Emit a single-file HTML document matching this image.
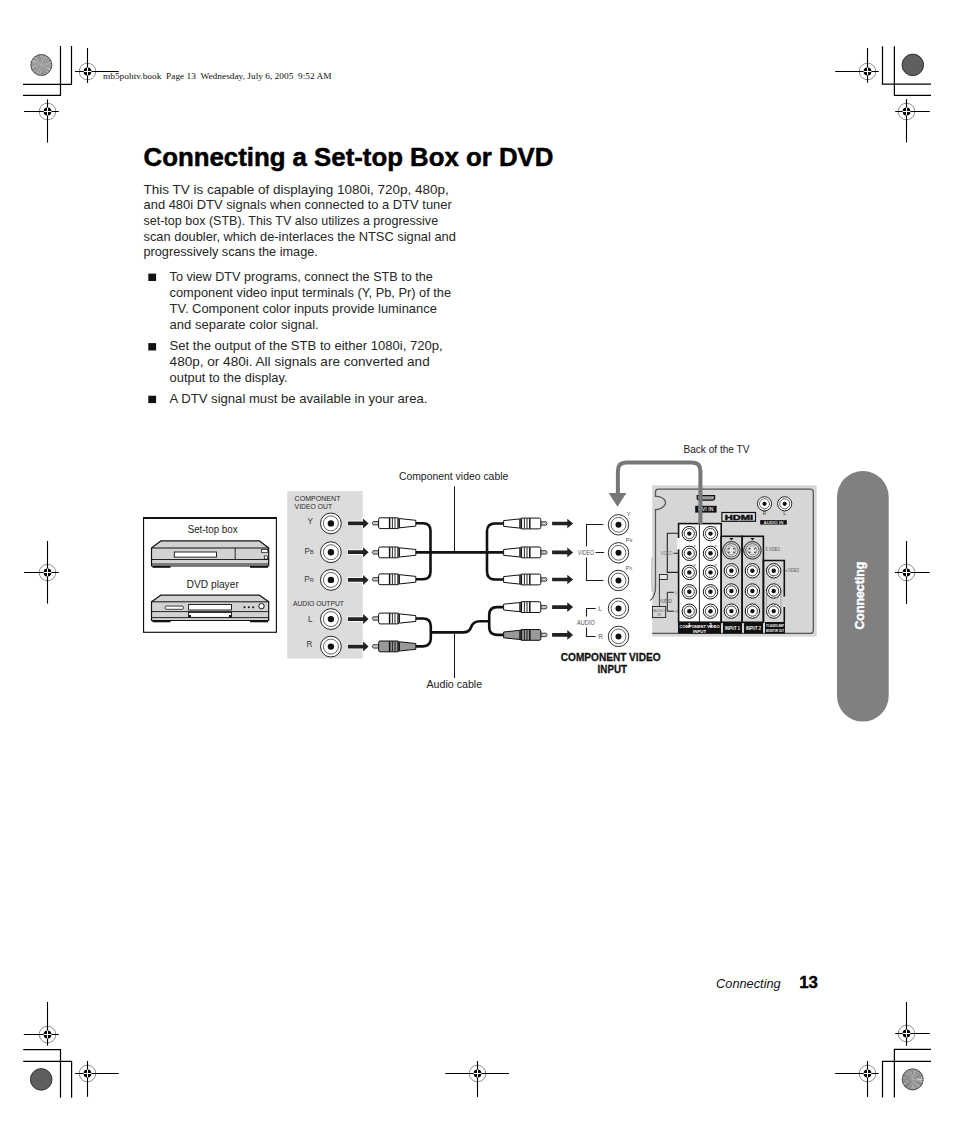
<!DOCTYPE html><html><head><meta charset="utf-8"><title>Connecting a Set-top Box or DVD</title>
<style>html,body{margin:0;padding:0;background:#fff;}body{width:954px;height:1145px;overflow:hidden;position:relative;font-family:"Liberation Sans",sans-serif;}svg{position:absolute;left:0;top:0;}</style></head><body>
<svg width="954" height="1145" viewBox="0 0 954 1145">
<polyline points="23,84.4 71.5,84.4 71.5,46" fill="none" stroke="#000" stroke-width="1.2"/>
<polyline points="23,95.3 60.5,95.3 60.5,46" fill="none" stroke="#000" stroke-width="1.2"/>
<polyline points="931,84.1 882.5,84.1 882.5,46.2" fill="none" stroke="#000" stroke-width="1.2"/>
<polyline points="931,95.3 894.4,95.3 894.4,46.2" fill="none" stroke="#000" stroke-width="1.2"/>
<polyline points="23.2,1049.6 60.5,1049.6 60.5,1097.8" fill="none" stroke="#000" stroke-width="1.2"/>
<polyline points="23.2,1061.3 71.6,1061.3 71.6,1097.8" fill="none" stroke="#000" stroke-width="1.2"/>
<polyline points="931,1049.4 894.4,1049.4 894.4,1097.6" fill="none" stroke="#000" stroke-width="1.2"/>
<polyline points="931,1061.4 882.5,1061.4 882.5,1097.6" fill="none" stroke="#000" stroke-width="1.2"/>
<defs><radialGradient id="g1" cx="50%" cy="50%" r="50%"><stop offset="0" stop-color="#333"/><stop offset="0.5" stop-color="#999"/><stop offset="0.85" stop-color="#bbb"/><stop offset="1" stop-color="#888"/></radialGradient></defs>
<circle cx="41.35" cy="65.0" r="10.8" fill="#fff"/><path d="M41.35,65.00 L52.15,65.00 L52.14,65.47 Z M41.35,65.00 L52.09,66.13 L52.03,66.60 Z M41.35,65.00 L51.91,67.25 L51.81,67.71 Z M41.35,65.00 L51.62,68.34 L51.46,68.79 Z M41.35,65.00 L51.22,69.39 L51.01,69.82 Z M41.35,65.00 L50.70,70.40 L50.46,70.81 Z M41.35,65.00 L50.09,71.35 L49.80,71.73 Z M41.35,65.00 L49.38,72.23 L49.05,72.57 Z M41.35,65.00 L48.58,73.03 L48.22,73.34 Z M41.35,65.00 L47.70,73.74 L47.31,74.01 Z M41.35,65.00 L46.75,74.35 L46.33,74.58 Z M41.35,65.00 L45.74,74.87 L45.30,75.05 Z M41.35,65.00 L44.69,75.27 L44.23,75.41 Z M41.35,65.00 L43.60,75.56 L43.13,75.65 Z M41.35,65.00 L42.48,75.74 L42.01,75.78 Z M41.35,65.00 L41.35,75.80 L40.88,75.79 Z M41.35,65.00 L40.22,75.74 L39.75,75.68 Z M41.35,65.00 L39.10,75.56 L38.64,75.46 Z M41.35,65.00 L38.01,75.27 L37.56,75.11 Z M41.35,65.00 L36.96,74.87 L36.53,74.66 Z M41.35,65.00 L35.95,74.35 L35.54,74.11 Z M41.35,65.00 L35.00,73.74 L34.62,73.45 Z M41.35,65.00 L34.12,73.03 L33.78,72.70 Z M41.35,65.00 L33.32,72.23 L33.01,71.87 Z M41.35,65.00 L32.61,71.35 L32.34,70.96 Z M41.35,65.00 L32.00,70.40 L31.77,69.98 Z M41.35,65.00 L31.48,69.39 L31.30,68.95 Z M41.35,65.00 L31.08,68.34 L30.94,67.88 Z M41.35,65.00 L30.79,67.25 L30.70,66.78 Z M41.35,65.00 L30.61,66.13 L30.57,65.66 Z M41.35,65.00 L30.55,65.00 L30.56,64.53 Z M41.35,65.00 L30.61,63.87 L30.67,63.40 Z M41.35,65.00 L30.79,62.75 L30.89,62.29 Z M41.35,65.00 L31.08,61.66 L31.24,61.21 Z M41.35,65.00 L31.48,60.61 L31.69,60.18 Z M41.35,65.00 L32.00,59.60 L32.24,59.19 Z M41.35,65.00 L32.61,58.65 L32.90,58.27 Z M41.35,65.00 L33.32,57.77 L33.65,57.43 Z M41.35,65.00 L34.12,56.97 L34.48,56.66 Z M41.35,65.00 L35.00,56.26 L35.39,55.99 Z M41.35,65.00 L35.95,55.65 L36.37,55.42 Z M41.35,65.00 L36.96,55.13 L37.40,54.95 Z M41.35,65.00 L38.01,54.73 L38.47,54.59 Z M41.35,65.00 L39.10,54.44 L39.57,54.35 Z M41.35,65.00 L40.22,54.26 L40.69,54.22 Z M41.35,65.00 L41.35,54.20 L41.82,54.21 Z M41.35,65.00 L42.48,54.26 L42.95,54.32 Z M41.35,65.00 L43.60,54.44 L44.06,54.54 Z M41.35,65.00 L44.69,54.73 L45.14,54.89 Z M41.35,65.00 L45.74,55.13 L46.17,55.34 Z M41.35,65.00 L46.75,55.65 L47.16,55.89 Z M41.35,65.00 L47.70,56.26 L48.08,56.55 Z M41.35,65.00 L48.58,56.97 L48.92,57.30 Z M41.35,65.00 L49.38,57.77 L49.69,58.13 Z M41.35,65.00 L50.09,58.65 L50.36,59.04 Z M41.35,65.00 L50.70,59.60 L50.93,60.02 Z M41.35,65.00 L51.22,60.61 L51.40,61.05 Z M41.35,65.00 L51.62,61.66 L51.76,62.12 Z M41.35,65.00 L51.91,62.75 L52.00,63.22 Z M41.35,65.00 L52.09,63.87 L52.13,64.34 Z" fill="#111"/><circle cx="41.35" cy="65.0" r="10.5" fill="none" stroke="#444" stroke-width="0.8"/>
<circle cx="912.7" cy="1079.4" r="10.8" fill="#fff"/><path d="M912.70,1079.40 L923.50,1079.40 L923.49,1079.87 Z M912.70,1079.40 L923.44,1080.53 L923.38,1081.00 Z M912.70,1079.40 L923.26,1081.65 L923.16,1082.11 Z M912.70,1079.40 L922.97,1082.74 L922.81,1083.19 Z M912.70,1079.40 L922.57,1083.79 L922.36,1084.22 Z M912.70,1079.40 L922.05,1084.80 L921.81,1085.21 Z M912.70,1079.40 L921.44,1085.75 L921.15,1086.13 Z M912.70,1079.40 L920.73,1086.63 L920.40,1086.97 Z M912.70,1079.40 L919.93,1087.43 L919.57,1087.74 Z M912.70,1079.40 L919.05,1088.14 L918.66,1088.41 Z M912.70,1079.40 L918.10,1088.75 L917.68,1088.98 Z M912.70,1079.40 L917.09,1089.27 L916.65,1089.45 Z M912.70,1079.40 L916.04,1089.67 L915.58,1089.81 Z M912.70,1079.40 L914.95,1089.96 L914.48,1090.05 Z M912.70,1079.40 L913.83,1090.14 L913.36,1090.18 Z M912.70,1079.40 L912.70,1090.20 L912.23,1090.19 Z M912.70,1079.40 L911.57,1090.14 L911.10,1090.08 Z M912.70,1079.40 L910.45,1089.96 L909.99,1089.86 Z M912.70,1079.40 L909.36,1089.67 L908.91,1089.51 Z M912.70,1079.40 L908.31,1089.27 L907.88,1089.06 Z M912.70,1079.40 L907.30,1088.75 L906.89,1088.51 Z M912.70,1079.40 L906.35,1088.14 L905.97,1087.85 Z M912.70,1079.40 L905.47,1087.43 L905.13,1087.10 Z M912.70,1079.40 L904.67,1086.63 L904.36,1086.27 Z M912.70,1079.40 L903.96,1085.75 L903.69,1085.36 Z M912.70,1079.40 L903.35,1084.80 L903.12,1084.38 Z M912.70,1079.40 L902.83,1083.79 L902.65,1083.35 Z M912.70,1079.40 L902.43,1082.74 L902.29,1082.28 Z M912.70,1079.40 L902.14,1081.65 L902.05,1081.18 Z M912.70,1079.40 L901.96,1080.53 L901.92,1080.06 Z M912.70,1079.40 L901.90,1079.40 L901.91,1078.93 Z M912.70,1079.40 L901.96,1078.27 L902.02,1077.80 Z M912.70,1079.40 L902.14,1077.15 L902.24,1076.69 Z M912.70,1079.40 L902.43,1076.06 L902.59,1075.61 Z M912.70,1079.40 L902.83,1075.01 L903.04,1074.58 Z M912.70,1079.40 L903.35,1074.00 L903.59,1073.59 Z M912.70,1079.40 L903.96,1073.05 L904.25,1072.67 Z M912.70,1079.40 L904.67,1072.17 L905.00,1071.83 Z M912.70,1079.40 L905.47,1071.37 L905.83,1071.06 Z M912.70,1079.40 L906.35,1070.66 L906.74,1070.39 Z M912.70,1079.40 L907.30,1070.05 L907.72,1069.82 Z M912.70,1079.40 L908.31,1069.53 L908.75,1069.35 Z M912.70,1079.40 L909.36,1069.13 L909.82,1068.99 Z M912.70,1079.40 L910.45,1068.84 L910.92,1068.75 Z M912.70,1079.40 L911.57,1068.66 L912.04,1068.62 Z M912.70,1079.40 L912.70,1068.60 L913.17,1068.61 Z M912.70,1079.40 L913.83,1068.66 L914.30,1068.72 Z M912.70,1079.40 L914.95,1068.84 L915.41,1068.94 Z M912.70,1079.40 L916.04,1069.13 L916.49,1069.29 Z M912.70,1079.40 L917.09,1069.53 L917.52,1069.74 Z M912.70,1079.40 L918.10,1070.05 L918.51,1070.29 Z M912.70,1079.40 L919.05,1070.66 L919.43,1070.95 Z M912.70,1079.40 L919.93,1071.37 L920.27,1071.70 Z M912.70,1079.40 L920.73,1072.17 L921.04,1072.53 Z M912.70,1079.40 L921.44,1073.05 L921.71,1073.44 Z M912.70,1079.40 L922.05,1074.00 L922.28,1074.42 Z M912.70,1079.40 L922.57,1075.01 L922.75,1075.45 Z M912.70,1079.40 L922.97,1076.06 L923.11,1076.52 Z M912.70,1079.40 L923.26,1077.15 L923.35,1077.62 Z M912.70,1079.40 L923.44,1078.27 L923.48,1078.74 Z" fill="#111"/><circle cx="912.7" cy="1079.4" r="10.5" fill="none" stroke="#444" stroke-width="0.8"/>
<circle cx="912.8" cy="64.9" r="10.8" fill="#5e5e5e" stroke="#2a2a2a" stroke-width="0.9"/>
<circle cx="41.2" cy="1079.4" r="10.8" fill="#5e5e5e" stroke="#2a2a2a" stroke-width="0.9"/>
<circle cx="87.5" cy="71.5" r="8.3" fill="none" stroke="#808080" stroke-width="0.9"/>
<line x1="75" y1="71.5" x2="118.8" y2="71.5" stroke="#000" stroke-width="1.1"/>
<line x1="87.5" y1="48" x2="87.5" y2="82.9" stroke="#000" stroke-width="1.1"/>
<circle cx="87.5" cy="71.5" r="3.9" fill="#000"/>
<line x1="83.6" y1="71.5" x2="91.4" y2="71.5" stroke="#fff" stroke-width="1"/>
<line x1="87.5" y1="67.6" x2="87.5" y2="75.4" stroke="#fff" stroke-width="1"/>
<circle cx="47.5" cy="111.5" r="8.3" fill="none" stroke="#808080" stroke-width="0.9"/>
<line x1="24" y1="111.5" x2="58.8" y2="111.5" stroke="#000" stroke-width="1.1"/>
<line x1="47.5" y1="99.4" x2="47.5" y2="142.6" stroke="#000" stroke-width="1.1"/>
<circle cx="47.5" cy="111.5" r="3.9" fill="#000"/>
<line x1="43.6" y1="111.5" x2="51.4" y2="111.5" stroke="#fff" stroke-width="1"/>
<line x1="47.5" y1="107.6" x2="47.5" y2="115.4" stroke="#fff" stroke-width="1"/>
<circle cx="867.5" cy="71.5" r="8.3" fill="none" stroke="#808080" stroke-width="0.9"/>
<line x1="835.2" y1="71.5" x2="878.7" y2="71.5" stroke="#000" stroke-width="1.1"/>
<line x1="867.5" y1="48" x2="867.5" y2="82.7" stroke="#000" stroke-width="1.1"/>
<circle cx="867.5" cy="71.5" r="3.9" fill="#000"/>
<line x1="863.6" y1="71.5" x2="871.4" y2="71.5" stroke="#fff" stroke-width="1"/>
<line x1="867.5" y1="67.6" x2="867.5" y2="75.4" stroke="#fff" stroke-width="1"/>
<circle cx="906.5" cy="111.5" r="8.3" fill="none" stroke="#808080" stroke-width="0.9"/>
<line x1="895.2" y1="111.5" x2="929.8" y2="111.5" stroke="#000" stroke-width="1.1"/>
<line x1="906.5" y1="99.1" x2="906.5" y2="142.4" stroke="#000" stroke-width="1.1"/>
<circle cx="906.5" cy="111.5" r="3.9" fill="#000"/>
<line x1="902.6" y1="111.5" x2="910.4" y2="111.5" stroke="#fff" stroke-width="1"/>
<line x1="906.5" y1="107.6" x2="906.5" y2="115.4" stroke="#fff" stroke-width="1"/>
<circle cx="47.5" cy="572.5" r="8.3" fill="none" stroke="#808080" stroke-width="0.9"/>
<line x1="24.1" y1="572.5" x2="58.9" y2="572.5" stroke="#000" stroke-width="1.1"/>
<line x1="47.5" y1="541" x2="47.5" y2="603.6" stroke="#000" stroke-width="1.1"/>
<circle cx="47.5" cy="572.5" r="3.9" fill="#000"/>
<line x1="43.6" y1="572.5" x2="51.4" y2="572.5" stroke="#fff" stroke-width="1"/>
<line x1="47.5" y1="568.6" x2="47.5" y2="576.4" stroke="#fff" stroke-width="1"/>
<circle cx="906.5" cy="572.5" r="8.3" fill="none" stroke="#808080" stroke-width="0.9"/>
<line x1="895" y1="572.5" x2="929.7" y2="572.5" stroke="#000" stroke-width="1.1"/>
<line x1="906.5" y1="541" x2="906.5" y2="604" stroke="#000" stroke-width="1.1"/>
<circle cx="906.5" cy="572.5" r="3.9" fill="#000"/>
<line x1="902.6" y1="572.5" x2="910.4" y2="572.5" stroke="#fff" stroke-width="1"/>
<line x1="906.5" y1="568.6" x2="906.5" y2="576.4" stroke="#fff" stroke-width="1"/>
<circle cx="47.5" cy="1034.5" r="8.3" fill="none" stroke="#808080" stroke-width="0.9"/>
<line x1="23.8" y1="1034.5" x2="58.9" y2="1034.5" stroke="#000" stroke-width="1.1"/>
<line x1="47.5" y1="1002" x2="47.5" y2="1045.6" stroke="#000" stroke-width="1.1"/>
<circle cx="47.5" cy="1034.5" r="3.9" fill="#000"/>
<line x1="43.6" y1="1034.5" x2="51.4" y2="1034.5" stroke="#fff" stroke-width="1"/>
<line x1="47.5" y1="1030.6" x2="47.5" y2="1038.4" stroke="#fff" stroke-width="1"/>
<circle cx="87.5" cy="1073.5" r="8.3" fill="none" stroke="#808080" stroke-width="0.9"/>
<line x1="75.1" y1="1073.5" x2="118.8" y2="1073.5" stroke="#000" stroke-width="1.1"/>
<line x1="87.5" y1="1061" x2="87.5" y2="1096.8" stroke="#000" stroke-width="1.1"/>
<circle cx="87.5" cy="1073.5" r="3.9" fill="#000"/>
<line x1="83.6" y1="1073.5" x2="91.4" y2="1073.5" stroke="#fff" stroke-width="1"/>
<line x1="87.5" y1="1069.6" x2="87.5" y2="1077.4" stroke="#fff" stroke-width="1"/>
<circle cx="477.5" cy="1073.5" r="8.3" fill="none" stroke="#808080" stroke-width="0.9"/>
<line x1="445.2" y1="1073.5" x2="509" y2="1073.5" stroke="#000" stroke-width="1.1"/>
<line x1="477.5" y1="1061" x2="477.5" y2="1096.9" stroke="#000" stroke-width="1.1"/>
<circle cx="477.5" cy="1073.5" r="3.9" fill="#000"/>
<line x1="473.6" y1="1073.5" x2="481.4" y2="1073.5" stroke="#fff" stroke-width="1"/>
<line x1="477.5" y1="1069.6" x2="477.5" y2="1077.4" stroke="#fff" stroke-width="1"/>
<circle cx="906.5" cy="1033.5" r="8.3" fill="none" stroke="#808080" stroke-width="0.9"/>
<line x1="895.2" y1="1033.5" x2="929.8" y2="1033.5" stroke="#000" stroke-width="1.1"/>
<line x1="906.5" y1="1002" x2="906.5" y2="1045.7" stroke="#000" stroke-width="1.1"/>
<circle cx="906.5" cy="1033.5" r="3.9" fill="#000"/>
<line x1="902.6" y1="1033.5" x2="910.4" y2="1033.5" stroke="#fff" stroke-width="1"/>
<line x1="906.5" y1="1029.6" x2="906.5" y2="1037.4" stroke="#fff" stroke-width="1"/>
<circle cx="867.5" cy="1073.5" r="8.3" fill="none" stroke="#808080" stroke-width="0.9"/>
<line x1="835.2" y1="1073.5" x2="878.7" y2="1073.5" stroke="#000" stroke-width="1.1"/>
<line x1="867.5" y1="1061" x2="867.5" y2="1097" stroke="#000" stroke-width="1.1"/>
<circle cx="867.5" cy="1073.5" r="3.9" fill="#000"/>
<line x1="863.6" y1="1073.5" x2="871.4" y2="1073.5" stroke="#fff" stroke-width="1"/>
<line x1="867.5" y1="1069.6" x2="867.5" y2="1077.4" stroke="#fff" stroke-width="1"/>
<text x="103" y="78.8" font-family='"Liberation Serif", serif' font-size="9.2" font-weight="normal" font-style="normal" fill="#111" text-anchor="start" textLength="228.5" lengthAdjust="spacingAndGlyphs" xml:space="preserve">mb5pohtv.book&#160; Page 13&#160; Wednesday, July 6, 2005&#160; 9:52 AM</text>
<text x="143.6" y="165.5" font-family='"Liberation Sans", sans-serif' font-size="25.3" font-weight="bold" font-style="normal" fill="#000" text-anchor="start" textLength="409.8" lengthAdjust="spacingAndGlyphs" stroke="#000" stroke-width="0.5">Connecting a Set-top Box or DVD</text>
<text x="143.5" y="193.6" font-family='"Liberation Sans", sans-serif' font-size="13.2" font-weight="normal" font-style="normal" fill="#262626" text-anchor="start" textLength="305.3" lengthAdjust="spacingAndGlyphs" >This TV is capable of displaying 1080i, 720p, 480p,</text>
<text x="143.5" y="209.3" font-family='"Liberation Sans", sans-serif' font-size="13.2" font-weight="normal" font-style="normal" fill="#262626" text-anchor="start" textLength="308.3" lengthAdjust="spacingAndGlyphs" >and 480i DTV signals when connected to a DTV tuner</text>
<text x="143.5" y="224.9" font-family='"Liberation Sans", sans-serif' font-size="13.2" font-weight="normal" font-style="normal" fill="#262626" text-anchor="start" textLength="294.6" lengthAdjust="spacingAndGlyphs" >set-top box (STB). This TV also utilizes a progressive</text>
<text x="143.5" y="240.5" font-family='"Liberation Sans", sans-serif' font-size="13.2" font-weight="normal" font-style="normal" fill="#262626" text-anchor="start" textLength="312.4" lengthAdjust="spacingAndGlyphs" >scan doubler, which de-interlaces the NTSC signal and</text>
<text x="143.5" y="256.1" font-family='"Liberation Sans", sans-serif' font-size="13.2" font-weight="normal" font-style="normal" fill="#262626" text-anchor="start" textLength="174.3" lengthAdjust="spacingAndGlyphs" >progressively scans the image.</text>
<text x="169.6" y="280.7" font-family='"Liberation Sans", sans-serif' font-size="13.2" font-weight="normal" font-style="normal" fill="#262626" text-anchor="start" textLength="263.2" lengthAdjust="spacingAndGlyphs" >To view DTV programs, connect the STB to the</text>
<text x="169.6" y="296.7" font-family='"Liberation Sans", sans-serif' font-size="13.2" font-weight="normal" font-style="normal" fill="#262626" text-anchor="start" textLength="281.5" lengthAdjust="spacingAndGlyphs" >component video input terminals (Y, Pb, Pr) of the</text>
<text x="169.6" y="312.8" font-family='"Liberation Sans", sans-serif' font-size="13.2" font-weight="normal" font-style="normal" fill="#262626" text-anchor="start" textLength="267.3" lengthAdjust="spacingAndGlyphs" >TV. Component color inputs provide luminance</text>
<text x="169.6" y="328.8" font-family='"Liberation Sans", sans-serif' font-size="13.2" font-weight="normal" font-style="normal" fill="#262626" text-anchor="start" textLength="149.1" lengthAdjust="spacingAndGlyphs" >and separate color signal.</text>
<text x="169.6" y="350.2" font-family='"Liberation Sans", sans-serif' font-size="13.2" font-weight="normal" font-style="normal" fill="#262626" text-anchor="start" textLength="273.0" lengthAdjust="spacingAndGlyphs" >Set the output of the STB to either 1080i, 720p,</text>
<text x="169.6" y="365.7" font-family='"Liberation Sans", sans-serif' font-size="13.2" font-weight="normal" font-style="normal" fill="#262626" text-anchor="start" textLength="260.1" lengthAdjust="spacingAndGlyphs" >480p, or 480i. All signals are converted and</text>
<text x="169.6" y="381.5" font-family='"Liberation Sans", sans-serif' font-size="13.2" font-weight="normal" font-style="normal" fill="#262626" text-anchor="start" textLength="117.9" lengthAdjust="spacingAndGlyphs" >output to the display.</text>
<text x="169.6" y="402.8" font-family='"Liberation Sans", sans-serif' font-size="13.2" font-weight="normal" font-style="normal" fill="#262626" text-anchor="start" textLength="257.8" lengthAdjust="spacingAndGlyphs" >A DTV signal must be available in your area.</text>
<rect x="148.3" y="273.59999999999997" width="7.8" height="7.4" fill="#111"/>
<rect x="148.3" y="343.09999999999997" width="7.8" height="7.4" fill="#111"/>
<rect x="148.3" y="395.7" width="7.8" height="7.4" fill="#111"/>
<rect x="837" y="471" width="51.7" height="250.6" rx="25.85" ry="25.85" fill="#808080"/>
<text x="0" y="0" font-family='"Liberation Sans", sans-serif' font-size="12.5" font-weight="bold" font-style="normal" fill="#fff" text-anchor="start" textLength="68" lengthAdjust="spacingAndGlyphs" stroke="#fff" stroke-width="0.45" transform="translate(863.8,629.6) rotate(-90)">Connecting</text>
<text x="716.1" y="988.2" font-family='"Liberation Sans", sans-serif' font-size="13.5" font-weight="normal" font-style="italic" fill="#111" text-anchor="start" textLength="64.6" lengthAdjust="spacingAndGlyphs" >Connecting</text>
<text x="799.2" y="988.2" font-family='"Liberation Sans", sans-serif' font-size="16" font-weight="bold" font-style="normal" fill="#000" text-anchor="start" textLength="18.8" lengthAdjust="spacingAndGlyphs" stroke="#000" stroke-width="0.35">13</text>
<rect x="143.55" y="518" width="132.85" height="114.3" fill="#fff" stroke="#111" stroke-width="1.15"/>
<line x1="143" y1="518" x2="277" y2="518" stroke="#111" stroke-width="2"/>
<text x="212.6" y="533" font-family='"Liberation Sans", sans-serif' font-size="11.2" font-weight="normal" font-style="normal" fill="#222" text-anchor="start" textLength="49.9" lengthAdjust="spacingAndGlyphs" dx="-24.95">Set-top box</text>
<text x="212.7" y="587.5" font-family='"Liberation Sans", sans-serif' font-size="11.2" font-weight="normal" font-style="normal" fill="#222" text-anchor="start" textLength="52.2" lengthAdjust="spacingAndGlyphs" dx="-26.1">DVD player</text>
<path d="M160.7,540.9 L259.5,540.9 L268.7,548 L268.7,566 L151.5,566 L151.5,548 Z" fill="#d2d2d2" stroke="#111" stroke-width="1.2" stroke-linejoin="round"/>
<line x1="151.5" y1="548" x2="268.7" y2="548" stroke="#111" stroke-width="1"/>
<line x1="151.5" y1="559.5" x2="268.7" y2="559.5" stroke="#111" stroke-width="0.9"/>
<line x1="151.5" y1="564" x2="268.7" y2="564" stroke="#111" stroke-width="0.9"/>
<rect x="174.3" y="552" width="42.2" height="5.1" fill="#fff" stroke="#111" stroke-width="0.9"/>
<line x1="235.2" y1="548" x2="235.2" y2="559.5" stroke="#111" stroke-width="0.9"/>
<rect x="261.5" y="549.6" width="6.3" height="3" fill="#fff" stroke="#111" stroke-width="0.7"/>
<rect x="264.3" y="556" width="3.3" height="3" fill="#fff" stroke="#111" stroke-width="0.7"/>
<rect x="152.5" y="566" width="18" height="1.8" fill="#111"/><rect x="250" y="566" width="18" height="1.8" fill="#111"/>
<path d="M160.7,595.2 L259.5,595.2 L268.7,601.8 L268.7,620.5 L151.5,620.5 L151.5,601.8 Z" fill="#d2d2d2" stroke="#111" stroke-width="1.2" stroke-linejoin="round"/>
<line x1="151.5" y1="601.8" x2="268.7" y2="601.8" stroke="#111" stroke-width="1"/>
<line x1="151.5" y1="611.6" x2="268.7" y2="611.6" stroke="#111" stroke-width="0.9"/>
<line x1="151.5" y1="617.6" x2="268.7" y2="617.6" stroke="#111" stroke-width="0.9"/>
<rect x="188.6" y="604.5" width="42.9" height="5.5" fill="#fff" stroke="#111" stroke-width="0.9"/>
<rect x="188.6" y="612.4" width="42.9" height="5" fill="#fff" stroke="#111" stroke-width="0.9"/>
<rect x="188.8" y="615" width="2.2" height="2.2" fill="#111"/><rect x="229" y="615" width="2.2" height="2.2" fill="#111"/>
<rect x="165.2" y="606.1" width="18.2" height="3.2" rx="1" fill="#fff" stroke="#111" stroke-width="0.8"/>
<circle cx="244.5" cy="607.3" r="1" fill="#111"/>
<circle cx="248.8" cy="607.3" r="1" fill="#111"/>
<circle cx="253.2" cy="607.3" r="1" fill="#111"/>
<circle cx="261.5" cy="606.2" r="2.7" fill="#fff" stroke="#111" stroke-width="1"/>
<rect x="152.5" y="620.5" width="18" height="1.8" fill="#111"/><rect x="250" y="620.5" width="18" height="1.8" fill="#111"/>
<rect x="287.2" y="491" width="75.6" height="167.6" fill="#dcdcdc"/>
<text x="294.6" y="500.9" font-family='"Liberation Sans", sans-serif' font-size="7.8" font-weight="normal" font-style="normal" fill="#2a2a2a" text-anchor="start" textLength="45.9" lengthAdjust="spacingAndGlyphs" >COMPONENT</text>
<text x="294.6" y="508.5" font-family='"Liberation Sans", sans-serif' font-size="7.8" font-weight="normal" font-style="normal" fill="#2a2a2a" text-anchor="start" textLength="37.5" lengthAdjust="spacingAndGlyphs" >VIDEO OUT</text>
<text x="293.0" y="605.8" font-family='"Liberation Sans", sans-serif' font-size="7.8" font-weight="normal" font-style="normal" fill="#2a2a2a" text-anchor="start" textLength="51" lengthAdjust="spacingAndGlyphs" >AUDIO OUTPUT</text>
<circle cx="330.9" cy="523.4" r="10.4" fill="#fff" stroke="#111" stroke-width="0.9"/><circle cx="330.9" cy="523.4" r="7.5" fill="none" stroke="#222" stroke-width="0.7"/><circle cx="330.9" cy="523.4" r="3.2" fill="#111"/>
<circle cx="330.9" cy="552.2" r="10.4" fill="#fff" stroke="#111" stroke-width="0.9"/><circle cx="330.9" cy="552.2" r="7.5" fill="none" stroke="#222" stroke-width="0.7"/><circle cx="330.9" cy="552.2" r="3.2" fill="#111"/>
<circle cx="330.9" cy="579.9" r="10.4" fill="#fff" stroke="#111" stroke-width="0.9"/><circle cx="330.9" cy="579.9" r="7.5" fill="none" stroke="#222" stroke-width="0.7"/><circle cx="330.9" cy="579.9" r="3.2" fill="#111"/>
<circle cx="330.9" cy="619.1" r="10.4" fill="#fff" stroke="#111" stroke-width="0.9"/><circle cx="330.9" cy="619.1" r="7.5" fill="none" stroke="#222" stroke-width="0.7"/><circle cx="330.9" cy="619.1" r="3.2" fill="#111"/>
<circle cx="330.9" cy="646.6" r="10.4" fill="#fff" stroke="#111" stroke-width="0.9"/><circle cx="330.9" cy="646.6" r="7.5" fill="none" stroke="#222" stroke-width="0.7"/><circle cx="330.9" cy="646.6" r="3.2" fill="#111"/>
<text x="313" y="524.4" font-family='"Liberation Sans", sans-serif' font-size="8.2" font-weight="normal" font-style="normal" fill="#3a3a3a" text-anchor="end" >Y</text>
<text x="313.8" y="554" font-family='"Liberation Sans", sans-serif' font-size="8.2" font-weight="normal" font-style="normal" fill="#3a3a3a" text-anchor="end" >P<tspan font-size="5.6">B</tspan></text>
<text x="313.8" y="581.8" font-family='"Liberation Sans", sans-serif' font-size="8.2" font-weight="normal" font-style="normal" fill="#3a3a3a" text-anchor="end" >P<tspan font-size="5.6">R</tspan></text>
<text x="312.5" y="621.9" font-family='"Liberation Sans", sans-serif' font-size="8.2" font-weight="normal" font-style="normal" fill="#3a3a3a" text-anchor="end" >L</text>
<text x="312.5" y="646.9" font-family='"Liberation Sans", sans-serif' font-size="8.2" font-weight="normal" font-style="normal" fill="#3a3a3a" text-anchor="end" >R</text>
<polygon points="347.90,521.50 363.10,521.50 363.10,518.40 368.60,523.40 363.10,528.40 363.10,525.30 347.90,525.30" fill="#222" stroke="#fff" stroke-width="1.4" paint-order="stroke"/>
<polygon points="347.90,550.30 363.10,550.30 363.10,547.20 368.60,552.20 363.10,557.20 363.10,554.10 347.90,554.10" fill="#222" stroke="#fff" stroke-width="1.4" paint-order="stroke"/>
<polygon points="347.90,578.00 363.10,578.00 363.10,574.90 368.60,579.90 363.10,584.90 363.10,581.80 347.90,581.80" fill="#222" stroke="#fff" stroke-width="1.4" paint-order="stroke"/>
<polygon points="347.90,617.20 363.10,617.20 363.10,614.10 368.60,619.10 363.10,624.10 363.10,621.00 347.90,621.00" fill="#222" stroke="#fff" stroke-width="1.4" paint-order="stroke"/>
<polygon points="347.90,644.70 363.10,644.70 363.10,641.60 368.60,646.60 363.10,651.60 363.10,648.50 347.90,648.50" fill="#222" stroke="#fff" stroke-width="1.4" paint-order="stroke"/>
<path d="M415.5,523.2 L423,523.2 Q430.5,523.2 430.5,530.7 L430.5,571.8 Q430.5,579.3 423,579.3 L415.5,579.3" fill="none" stroke="#111" stroke-width="2.6"/>
<path d="M415.5,552.4 L503.5,552.4" fill="none" stroke="#111" stroke-width="2.6"/>
<path d="M503.5,523.5 L495,523.5 Q487,523.5 487,531.5 L487,571.5 Q487,579.5 495,579.5 L503.5,579.5" fill="none" stroke="#111" stroke-width="2.6"/>
<path d="M415.5,618.5 L423,618.5 Q430.8,618.5 430.8,626.3 L430.8,638.6 Q430.8,646.4 423,646.4 L415.5,646.4" fill="none" stroke="#111" stroke-width="2.6"/>
<path d="M430.8,632.4 L463,632.4 Q469.5,632.4 471.2,627 Q473,621.2 480,621.2 L489,621.2" fill="none" stroke="#111" stroke-width="2.6"/>
<path d="M503.5,607.1 L497,607.1 Q489.2,607.1 489.2,614.9 L489.2,627.1 Q489.2,634.9 497,634.9 L503.5,634.9" fill="none" stroke="#111" stroke-width="2.6"/>
<path d="M378.6,521.5 L373.2,521.5 Q371.4,523.2 373.2,524.9000000000001 L378.6,524.9000000000001 Z" fill="#c8c8c8" stroke="#111" stroke-width="0.8"/>
<path d="M399.5,518.6 L415.8,520.3000000000001 L415.8,526.1 L399.5,527.8000000000001 Z" fill="#fff" stroke="#111" stroke-width="1"/>
<rect x="378.6" y="517.8000000000001" width="20.6" height="10.8" rx="1.6" fill="#fff" stroke="#111" stroke-width="1"/>
<line x1="389.6" y1="518.0" x2="389.6" y2="528.4000000000001" stroke="#111" stroke-width="1.5"/>
<line x1="392.4" y1="518.0" x2="392.4" y2="528.4000000000001" stroke="#111" stroke-width="0.9"/>
<line x1="395.0" y1="518.0" x2="395.0" y2="528.4000000000001" stroke="#111" stroke-width="0.9"/>
<line x1="398.0" y1="518.0" x2="398.0" y2="528.4000000000001" stroke="#111" stroke-width="1.3"/>
<path d="M378.6,550.6999999999999 L373.2,550.6999999999999 Q371.4,552.4 373.2,554.1 L378.6,554.1 Z" fill="#c8c8c8" stroke="#111" stroke-width="0.8"/>
<path d="M399.5,547.8 L415.8,549.5 L415.8,555.3 L399.5,557.0 Z" fill="#fff" stroke="#111" stroke-width="1"/>
<rect x="378.6" y="547.0" width="20.6" height="10.8" rx="1.6" fill="#fff" stroke="#111" stroke-width="1"/>
<line x1="389.6" y1="547.1999999999999" x2="389.6" y2="557.6" stroke="#111" stroke-width="1.5"/>
<line x1="392.4" y1="547.1999999999999" x2="392.4" y2="557.6" stroke="#111" stroke-width="0.9"/>
<line x1="395.0" y1="547.1999999999999" x2="395.0" y2="557.6" stroke="#111" stroke-width="0.9"/>
<line x1="398.0" y1="547.1999999999999" x2="398.0" y2="557.6" stroke="#111" stroke-width="1.3"/>
<path d="M378.6,577.5999999999999 L373.2,577.5999999999999 Q371.4,579.3 373.2,581.0 L378.6,581.0 Z" fill="#c8c8c8" stroke="#111" stroke-width="0.8"/>
<path d="M399.5,574.6999999999999 L415.8,576.4 L415.8,582.1999999999999 L399.5,583.9 Z" fill="#fff" stroke="#111" stroke-width="1"/>
<rect x="378.6" y="573.9" width="20.6" height="10.8" rx="1.6" fill="#fff" stroke="#111" stroke-width="1"/>
<line x1="389.6" y1="574.0999999999999" x2="389.6" y2="584.5" stroke="#111" stroke-width="1.5"/>
<line x1="392.4" y1="574.0999999999999" x2="392.4" y2="584.5" stroke="#111" stroke-width="0.9"/>
<line x1="395.0" y1="574.0999999999999" x2="395.0" y2="584.5" stroke="#111" stroke-width="0.9"/>
<line x1="398.0" y1="574.0999999999999" x2="398.0" y2="584.5" stroke="#111" stroke-width="1.3"/>
<path d="M378.6,616.8 L373.2,616.8 Q371.4,618.5 373.2,620.2 L378.6,620.2 Z" fill="#c8c8c8" stroke="#111" stroke-width="0.8"/>
<path d="M399.5,613.9 L415.8,615.6 L415.8,621.4 L399.5,623.1 Z" fill="#fff" stroke="#111" stroke-width="1"/>
<rect x="378.6" y="613.1" width="20.6" height="10.8" rx="1.6" fill="#fff" stroke="#111" stroke-width="1"/>
<line x1="389.6" y1="613.3" x2="389.6" y2="623.7" stroke="#111" stroke-width="1.5"/>
<line x1="392.4" y1="613.3" x2="392.4" y2="623.7" stroke="#111" stroke-width="0.9"/>
<line x1="395.0" y1="613.3" x2="395.0" y2="623.7" stroke="#111" stroke-width="0.9"/>
<line x1="398.0" y1="613.3" x2="398.0" y2="623.7" stroke="#111" stroke-width="1.3"/>
<path d="M378.6,644.6999999999999 L373.2,644.6999999999999 Q371.4,646.4 373.2,648.1 L378.6,648.1 Z" fill="#c8c8c8" stroke="#111" stroke-width="0.8"/>
<path d="M399.5,641.8 L415.8,643.5 L415.8,649.3 L399.5,651.0 Z" fill="#999" stroke="#111" stroke-width="1"/>
<rect x="378.6" y="641.0" width="20.6" height="10.8" rx="1.6" fill="#999" stroke="#111" stroke-width="1"/>
<line x1="389.6" y1="641.1999999999999" x2="389.6" y2="651.6" stroke="#111" stroke-width="1.5"/>
<line x1="392.4" y1="641.1999999999999" x2="392.4" y2="651.6" stroke="#111" stroke-width="0.9"/>
<line x1="395.0" y1="641.1999999999999" x2="395.0" y2="651.6" stroke="#111" stroke-width="0.9"/>
<line x1="398.0" y1="641.1999999999999" x2="398.0" y2="651.6" stroke="#111" stroke-width="1.3"/>
<path d="M540.8,521.8 L546.2,521.8 Q548.0,523.5 546.2,525.2 L540.8,525.2 Z" fill="#c8c8c8" stroke="#111" stroke-width="0.8"/>
<path d="M519.9,518.9 L503.59999999999997,520.6 L503.59999999999997,526.4 L519.9,528.1 Z" fill="#fff" stroke="#111" stroke-width="1"/>
<rect x="520.2" y="518.1" width="20.6" height="10.8" rx="1.6" fill="#fff" stroke="#111" stroke-width="1"/>
<line x1="529.8" y1="518.3" x2="529.8" y2="528.7" stroke="#111" stroke-width="1.5"/>
<line x1="527.0" y1="518.3" x2="527.0" y2="528.7" stroke="#111" stroke-width="0.9"/>
<line x1="524.4" y1="518.3" x2="524.4" y2="528.7" stroke="#111" stroke-width="0.9"/>
<line x1="521.4" y1="518.3" x2="521.4" y2="528.7" stroke="#111" stroke-width="1.3"/>
<path d="M540.8,550.6999999999999 L546.2,550.6999999999999 Q548.0,552.4 546.2,554.1 L540.8,554.1 Z" fill="#c8c8c8" stroke="#111" stroke-width="0.8"/>
<path d="M519.9,547.8 L503.59999999999997,549.5 L503.59999999999997,555.3 L519.9,557.0 Z" fill="#fff" stroke="#111" stroke-width="1"/>
<rect x="520.2" y="547.0" width="20.6" height="10.8" rx="1.6" fill="#fff" stroke="#111" stroke-width="1"/>
<line x1="529.8" y1="547.1999999999999" x2="529.8" y2="557.6" stroke="#111" stroke-width="1.5"/>
<line x1="527.0" y1="547.1999999999999" x2="527.0" y2="557.6" stroke="#111" stroke-width="0.9"/>
<line x1="524.4" y1="547.1999999999999" x2="524.4" y2="557.6" stroke="#111" stroke-width="0.9"/>
<line x1="521.4" y1="547.1999999999999" x2="521.4" y2="557.6" stroke="#111" stroke-width="1.3"/>
<path d="M540.8,577.8 L546.2,577.8 Q548.0,579.5 546.2,581.2 L540.8,581.2 Z" fill="#c8c8c8" stroke="#111" stroke-width="0.8"/>
<path d="M519.9,574.9 L503.59999999999997,576.6 L503.59999999999997,582.4 L519.9,584.1 Z" fill="#fff" stroke="#111" stroke-width="1"/>
<rect x="520.2" y="574.1" width="20.6" height="10.8" rx="1.6" fill="#fff" stroke="#111" stroke-width="1"/>
<line x1="529.8" y1="574.3" x2="529.8" y2="584.7" stroke="#111" stroke-width="1.5"/>
<line x1="527.0" y1="574.3" x2="527.0" y2="584.7" stroke="#111" stroke-width="0.9"/>
<line x1="524.4" y1="574.3" x2="524.4" y2="584.7" stroke="#111" stroke-width="0.9"/>
<line x1="521.4" y1="574.3" x2="521.4" y2="584.7" stroke="#111" stroke-width="1.3"/>
<path d="M540.8,605.4 L546.2,605.4 Q548.0,607.1 546.2,608.8000000000001 L540.8,608.8000000000001 Z" fill="#c8c8c8" stroke="#111" stroke-width="0.8"/>
<path d="M519.9,602.5 L503.59999999999997,604.2 L503.59999999999997,610.0 L519.9,611.7 Z" fill="#fff" stroke="#111" stroke-width="1"/>
<rect x="520.2" y="601.7" width="20.6" height="10.8" rx="1.6" fill="#fff" stroke="#111" stroke-width="1"/>
<line x1="529.8" y1="601.9" x2="529.8" y2="612.3000000000001" stroke="#111" stroke-width="1.5"/>
<line x1="527.0" y1="601.9" x2="527.0" y2="612.3000000000001" stroke="#111" stroke-width="0.9"/>
<line x1="524.4" y1="601.9" x2="524.4" y2="612.3000000000001" stroke="#111" stroke-width="0.9"/>
<line x1="521.4" y1="601.9" x2="521.4" y2="612.3000000000001" stroke="#111" stroke-width="1.3"/>
<path d="M540.8,633.1999999999999 L546.2,633.1999999999999 Q548.0,634.9 546.2,636.6 L540.8,636.6 Z" fill="#c8c8c8" stroke="#111" stroke-width="0.8"/>
<path d="M519.9,630.3 L503.59999999999997,632.0 L503.59999999999997,637.8 L519.9,639.5 Z" fill="#999" stroke="#111" stroke-width="1"/>
<rect x="520.2" y="629.5" width="20.6" height="10.8" rx="1.6" fill="#999" stroke="#111" stroke-width="1"/>
<line x1="529.8" y1="629.6999999999999" x2="529.8" y2="640.1" stroke="#111" stroke-width="1.5"/>
<line x1="527.0" y1="629.6999999999999" x2="527.0" y2="640.1" stroke="#111" stroke-width="0.9"/>
<line x1="524.4" y1="629.6999999999999" x2="524.4" y2="640.1" stroke="#111" stroke-width="0.9"/>
<line x1="521.4" y1="629.6999999999999" x2="521.4" y2="640.1" stroke="#111" stroke-width="1.3"/>
<polygon points="552.10,521.70 567.30,521.70 567.30,518.70 573.10,523.50 567.30,528.30 567.30,525.30 552.10,525.30" fill="#222"/>
<polygon points="552.10,550.60 567.30,550.60 567.30,547.60 573.10,552.40 567.30,557.20 567.30,554.20 552.10,554.20" fill="#222"/>
<polygon points="552.10,577.70 567.30,577.70 567.30,574.70 573.10,579.50 567.30,584.30 567.30,581.30 552.10,581.30" fill="#222"/>
<polygon points="552.10,605.30 567.30,605.30 567.30,602.30 573.10,607.10 567.30,611.90 567.30,608.90 552.10,608.90" fill="#222"/>
<polygon points="552.10,633.10 567.30,633.10 567.30,630.10 573.10,634.90 567.30,639.70 567.30,636.70 552.10,636.70" fill="#222"/>
<line x1="454.5" y1="486.4" x2="454.5" y2="551" stroke="#111" stroke-width="1"/>
<line x1="454.5" y1="634" x2="454.5" y2="678" stroke="#111" stroke-width="1"/>
<text x="398.9" y="479.8" font-family='"Liberation Sans", sans-serif' font-size="11" font-weight="normal" font-style="normal" fill="#222" text-anchor="start" textLength="109.4" lengthAdjust="spacingAndGlyphs" >Component video cable</text>
<text x="426.4" y="688.3" font-family='"Liberation Sans", sans-serif' font-size="11" font-weight="normal" font-style="normal" fill="#222" text-anchor="start" textLength="55.8" lengthAdjust="spacingAndGlyphs" >Audio cable</text>
<text x="683.5" y="452.7" font-family='"Liberation Sans", sans-serif' font-size="11" font-weight="normal" font-style="normal" fill="#222" text-anchor="start" textLength="65.9" lengthAdjust="spacingAndGlyphs" >Back of the TV</text>
<circle cx="618.5" cy="524.8" r="10.2" fill="#fff" stroke="#111" stroke-width="0.9"/><circle cx="618.5" cy="524.8" r="7.4" fill="none" stroke="#222" stroke-width="0.7"/><circle cx="618.5" cy="524.8" r="3.0" fill="#111"/>
<circle cx="618.5" cy="552.8" r="10.2" fill="#fff" stroke="#111" stroke-width="0.9"/><circle cx="618.5" cy="552.8" r="7.4" fill="none" stroke="#222" stroke-width="0.7"/><circle cx="618.5" cy="552.8" r="3.0" fill="#111"/>
<circle cx="618.5" cy="580.5" r="10.2" fill="#fff" stroke="#111" stroke-width="0.9"/><circle cx="618.5" cy="580.5" r="7.4" fill="none" stroke="#222" stroke-width="0.7"/><circle cx="618.5" cy="580.5" r="3.0" fill="#111"/>
<circle cx="618.5" cy="608.4" r="10.2" fill="#fff" stroke="#111" stroke-width="0.9"/><circle cx="618.5" cy="608.4" r="7.4" fill="none" stroke="#222" stroke-width="0.7"/><circle cx="618.5" cy="608.4" r="3.0" fill="#111"/>
<circle cx="618.5" cy="636.4" r="10.2" fill="#fff" stroke="#111" stroke-width="0.9"/><circle cx="618.5" cy="636.4" r="7.4" fill="none" stroke="#222" stroke-width="0.7"/><circle cx="618.5" cy="636.4" r="3.0" fill="#111"/>
<text x="628.6" y="516.3" font-family='"Liberation Sans", sans-serif' font-size="6" font-weight="normal" font-style="normal" fill="#555" text-anchor="middle" >Y</text>
<text x="629" y="541.8" font-family='"Liberation Sans", sans-serif' font-size="6" font-weight="normal" font-style="normal" fill="#555" text-anchor="middle" >P<tspan font-size="4">B</tspan></text>
<text x="629" y="569.5" font-family='"Liberation Sans", sans-serif' font-size="6" font-weight="normal" font-style="normal" fill="#555" text-anchor="middle" >P<tspan font-size="4">R</tspan></text>
<polyline points="603.3,524.5 586.5,524.5 586.5,580.5 603.3,580.5" fill="none" stroke="#1a1a1a" stroke-width="1.05"/>
<line x1="595.7" y1="552.5" x2="604.1" y2="552.5" stroke="#1a1a1a" stroke-width="1.05"/>
<rect x="577" y="546.5" width="18" height="11" fill="#fff"/>
<text x="577.8" y="554.8" font-family='"Liberation Sans", sans-serif' font-size="6.6" font-weight="normal" font-style="normal" fill="#555" text-anchor="start" textLength="16.2" lengthAdjust="spacingAndGlyphs" >VIDEO</text>
<polyline points="595.7,608.5 586.5,608.5 586.5,636.5 595.7,636.5" fill="none" stroke="#1a1a1a" stroke-width="1.05"/>
<text x="598.2" y="611.2" font-family='"Liberation Sans", sans-serif' font-size="6.4" font-weight="normal" font-style="normal" fill="#555" text-anchor="start" >L</text>
<text x="598.2" y="638.8" font-family='"Liberation Sans", sans-serif' font-size="6.4" font-weight="normal" font-style="normal" fill="#555" text-anchor="start" >R</text>
<rect x="576.5" y="616.5" width="19" height="11" fill="#fff"/>
<text x="577" y="625.2" font-family='"Liberation Sans", sans-serif' font-size="6.6" font-weight="normal" font-style="normal" fill="#555" text-anchor="start" textLength="17.9" lengthAdjust="spacingAndGlyphs" >AUDIO</text>
<text x="560.8" y="660.8" font-family='"Liberation Sans", sans-serif' font-size="11.3" font-weight="bold" font-style="normal" fill="#111" text-anchor="start" textLength="99.7" lengthAdjust="spacingAndGlyphs" stroke="#111" stroke-width="0.3">COMPONENT VIDEO</text>
<text x="597.6" y="672.8" font-family='"Liberation Sans", sans-serif' font-size="11.3" font-weight="bold" font-style="normal" fill="#111" text-anchor="start" textLength="29.4" lengthAdjust="spacingAndGlyphs" stroke="#111" stroke-width="0.3">INPUT</text>
<rect x="652.2" y="485.3" width="164.5" height="151.3" fill="#d6d6d6"/>
<path d="M650.3,600.5 Q655.5,596 655.5,587 L655.5,509.5 Q658.5,509.8 661.5,508 Q665.5,505.5 665.5,503 Q665.5,499.5 661.5,497.5 Q658.5,496.2 655.5,496.5 L655.5,492 Q655.5,489.2 658.5,489.2 L810.3,489.2 Q813.3,489.2 813.3,492.2 L813.3,630.4 Q813.3,633.4 810.3,633.4 L652.2,633.4" fill="none" stroke="#555" stroke-width="1.25"/>
<path d="M652,557 Q651.3,575 652,592" fill="none" stroke="#9a9a9a" stroke-width="0.7"/>
<path d="M697.2,495.6 L714.6,495.6 L714.6,498 Q714.6,500.2 712.4,500.2 L699.4,500.2 Q697.2,500.2 697.2,498 Z" fill="#9c9c9c" stroke="#111" stroke-width="1.2"/>
<rect x="695.2" y="505.8" width="21.4" height="6.8" fill="#111"/>
<text x="698" y="511.3" font-family='"Liberation Sans", sans-serif' font-size="5.2" font-weight="bold" font-style="normal" fill="#ccc" text-anchor="start" textLength="15.5" lengthAdjust="spacingAndGlyphs" >DVI IN</text>
<rect x="721.9" y="512.5" width="33.6" height="8.8" fill="#dedede" stroke="#111" stroke-width="1.2"/>
<text x="724.8" y="519.6" font-family='"Liberation Sans", sans-serif' font-size="6.6" font-weight="bold" font-style="normal" fill="#111" text-anchor="start" textLength="28.4" lengthAdjust="spacingAndGlyphs" stroke="#111" stroke-width="0.4">HDMI</text>
<circle cx="764.5" cy="503.8" r="7.1" fill="#fff" stroke="#111" stroke-width="0.9"/><circle cx="764.5" cy="503.8" r="5.0" fill="none" stroke="#222" stroke-width="0.7"/><circle cx="764.5" cy="503.8" r="2.1" fill="#111"/>
<circle cx="784.7" cy="503.8" r="7.1" fill="#fff" stroke="#111" stroke-width="0.9"/><circle cx="784.7" cy="503.8" r="5.0" fill="none" stroke="#222" stroke-width="0.7"/><circle cx="784.7" cy="503.8" r="2.1" fill="#111"/>
<text x="764.5" y="515" font-family='"Liberation Sans", sans-serif' font-size="4.8" font-weight="normal" font-style="normal" fill="#333" text-anchor="middle" >R</text>
<text x="784.7" y="515" font-family='"Liberation Sans", sans-serif' font-size="4.8" font-weight="normal" font-style="normal" fill="#333" text-anchor="middle" >L</text>
<rect x="760.2" y="520.1" width="26.6" height="4.5" fill="#111"/>
<text x="773.5" y="524" font-family='"Liberation Sans", sans-serif' font-size="4.2" font-weight="bold" font-style="normal" fill="#ddd" text-anchor="start" textLength="20" lengthAdjust="spacingAndGlyphs" dx="-10">AUDIO IN</text>
<rect x="678.6" y="523.6" width="42.6" height="98.6" fill="#fff" stroke="#111" stroke-width="1.6"/>
<line x1="699.4" y1="523.6" x2="699.4" y2="622.2" stroke="#111" stroke-width="0.9"/>
<rect x="677.2" y="538" width="2.6" height="11.4" fill="#fff"/>
<circle cx="689.3" cy="533.6" r="7.2" fill="#fff" stroke="#111" stroke-width="1.0"/><circle cx="689.3" cy="533.6" r="5.1" fill="none" stroke="#222" stroke-width="0.85"/><circle cx="689.3" cy="533.6" r="2.2" fill="#111"/>
<circle cx="689.3" cy="553.3" r="7.2" fill="#fff" stroke="#111" stroke-width="1.0"/><circle cx="689.3" cy="553.3" r="5.1" fill="none" stroke="#222" stroke-width="0.85"/><circle cx="689.3" cy="553.3" r="2.2" fill="#111"/>
<circle cx="689.3" cy="572.4" r="7.2" fill="#fff" stroke="#111" stroke-width="1.0"/><circle cx="689.3" cy="572.4" r="5.1" fill="none" stroke="#222" stroke-width="0.85"/><circle cx="689.3" cy="572.4" r="2.2" fill="#111"/>
<circle cx="689.3" cy="591.8" r="7.2" fill="#fff" stroke="#111" stroke-width="1.0"/><circle cx="689.3" cy="591.8" r="5.1" fill="none" stroke="#222" stroke-width="0.85"/><circle cx="689.3" cy="591.8" r="2.2" fill="#111"/>
<circle cx="689.3" cy="611.2" r="7.2" fill="#fff" stroke="#111" stroke-width="1.0"/><circle cx="689.3" cy="611.2" r="5.1" fill="none" stroke="#222" stroke-width="0.85"/><circle cx="689.3" cy="611.2" r="2.2" fill="#111"/>
<circle cx="710.5" cy="533.6" r="7.2" fill="#fff" stroke="#111" stroke-width="1.0"/><circle cx="710.5" cy="533.6" r="5.1" fill="none" stroke="#222" stroke-width="0.85"/><circle cx="710.5" cy="533.6" r="2.2" fill="#111"/>
<circle cx="710.5" cy="553.3" r="7.2" fill="#fff" stroke="#111" stroke-width="1.0"/><circle cx="710.5" cy="553.3" r="5.1" fill="none" stroke="#222" stroke-width="0.85"/><circle cx="710.5" cy="553.3" r="2.2" fill="#111"/>
<circle cx="710.5" cy="572.4" r="7.2" fill="#fff" stroke="#111" stroke-width="1.0"/><circle cx="710.5" cy="572.4" r="5.1" fill="none" stroke="#222" stroke-width="0.85"/><circle cx="710.5" cy="572.4" r="2.2" fill="#111"/>
<circle cx="710.5" cy="591.8" r="7.2" fill="#fff" stroke="#111" stroke-width="1.0"/><circle cx="710.5" cy="591.8" r="5.1" fill="none" stroke="#222" stroke-width="0.85"/><circle cx="710.5" cy="591.8" r="2.2" fill="#111"/>
<circle cx="710.5" cy="611.2" r="7.2" fill="#fff" stroke="#111" stroke-width="1.0"/><circle cx="710.5" cy="611.2" r="5.1" fill="none" stroke="#222" stroke-width="0.85"/><circle cx="710.5" cy="611.2" r="2.2" fill="#111"/>
<rect x="721.2" y="536.3" width="21" height="86" fill="#d6d6d6" stroke="#111" stroke-width="1.6"/>
<rect x="742.2" y="536.3" width="21.2" height="86" fill="#d6d6d6" stroke="#111" stroke-width="1.6"/>
<path d="M763.4,622.3 L763.4,560.5 L784.3,560.5 L784.3,596.5 M784.3,607 L784.3,622.3" fill="none" stroke="#111" stroke-width="1.6"/>
<path d="M729.4,538 L733.4,538 L731.4,540.4 Z" fill="#111"/>
<circle cx="731.4" cy="550.3" r="8.8" fill="#c8c8c8" stroke="#111" stroke-width="0.9"/>
<circle cx="731.4" cy="550.3" r="6.6" fill="#e6e6e6" stroke="#333" stroke-width="0.7"/>
<circle cx="731.4" cy="550.3" r="4.5" fill="none" stroke="#555" stroke-width="0.6"/>
<circle cx="728.9" cy="548.8" r="0.8" fill="#111"/>
<circle cx="733.9" cy="548.8" r="0.8" fill="#111"/>
<circle cx="728.9" cy="552.3" r="0.8" fill="#111"/>
<circle cx="733.9" cy="552.3" r="0.8" fill="#111"/>
<circle cx="731.4" cy="570.8" r="7.2" fill="#fff" stroke="#111" stroke-width="1.0"/><circle cx="731.4" cy="570.8" r="5.1" fill="none" stroke="#222" stroke-width="0.85"/><circle cx="731.4" cy="570.8" r="2.2" fill="#111"/>
<circle cx="731.4" cy="591.0" r="7.2" fill="#fff" stroke="#111" stroke-width="1.0"/><circle cx="731.4" cy="591.0" r="5.1" fill="none" stroke="#222" stroke-width="0.85"/><circle cx="731.4" cy="591.0" r="2.2" fill="#111"/>
<circle cx="731.4" cy="611.1" r="7.2" fill="#fff" stroke="#111" stroke-width="1.0"/><circle cx="731.4" cy="611.1" r="5.1" fill="none" stroke="#222" stroke-width="0.85"/><circle cx="731.4" cy="611.1" r="2.2" fill="#111"/>
<path d="M750.4,538 L754.4,538 L752.4,540.4 Z" fill="#111"/>
<circle cx="752.4" cy="550.3" r="8.8" fill="#c8c8c8" stroke="#111" stroke-width="0.9"/>
<circle cx="752.4" cy="550.3" r="6.6" fill="#e6e6e6" stroke="#333" stroke-width="0.7"/>
<circle cx="752.4" cy="550.3" r="4.5" fill="none" stroke="#555" stroke-width="0.6"/>
<circle cx="749.9" cy="548.8" r="0.8" fill="#111"/>
<circle cx="754.9" cy="548.8" r="0.8" fill="#111"/>
<circle cx="749.9" cy="552.3" r="0.8" fill="#111"/>
<circle cx="754.9" cy="552.3" r="0.8" fill="#111"/>
<circle cx="752.4" cy="570.8" r="7.2" fill="#fff" stroke="#111" stroke-width="1.0"/><circle cx="752.4" cy="570.8" r="5.1" fill="none" stroke="#222" stroke-width="0.85"/><circle cx="752.4" cy="570.8" r="2.2" fill="#111"/>
<circle cx="752.4" cy="591.0" r="7.2" fill="#fff" stroke="#111" stroke-width="1.0"/><circle cx="752.4" cy="591.0" r="5.1" fill="none" stroke="#222" stroke-width="0.85"/><circle cx="752.4" cy="591.0" r="2.2" fill="#111"/>
<circle cx="752.4" cy="611.1" r="7.2" fill="#fff" stroke="#111" stroke-width="1.0"/><circle cx="752.4" cy="611.1" r="5.1" fill="none" stroke="#222" stroke-width="0.85"/><circle cx="752.4" cy="611.1" r="2.2" fill="#111"/>
<circle cx="773.7" cy="570.8" r="7.2" fill="#fff" stroke="#111" stroke-width="1.0"/><circle cx="773.7" cy="570.8" r="5.1" fill="none" stroke="#222" stroke-width="0.85"/><circle cx="773.7" cy="570.8" r="2.2" fill="#111"/>
<circle cx="773.7" cy="591.0" r="7.2" fill="#fff" stroke="#111" stroke-width="1.0"/><circle cx="773.7" cy="591.0" r="5.1" fill="none" stroke="#222" stroke-width="0.85"/><circle cx="773.7" cy="591.0" r="2.2" fill="#111"/>
<circle cx="773.7" cy="611.1" r="7.2" fill="#fff" stroke="#111" stroke-width="1.0"/><circle cx="773.7" cy="611.1" r="5.1" fill="none" stroke="#222" stroke-width="0.85"/><circle cx="773.7" cy="611.1" r="2.2" fill="#111"/>
<path d="M766.5,591 L766.5,611 M781,591 L781,611" stroke="#888" stroke-width="0.6"/>
<rect x="678" y="622" width="43" height="11.6" fill="#111"/>
<rect x="723" y="622" width="19" height="11.6" fill="#111"/>
<rect x="744" y="622" width="19" height="11.6" fill="#111"/>
<rect x="765" y="622" width="20" height="11.6" fill="#111"/>
<text x="689.3" y="626.8" font-family='"Liberation Sans", sans-serif' font-size="4.5" font-weight="bold" font-style="normal" fill="#fff" text-anchor="middle" >1</text>
<text x="710.5" y="626.8" font-family='"Liberation Sans", sans-serif' font-size="4.5" font-weight="bold" font-style="normal" fill="#fff" text-anchor="middle" >2</text>
<text x="699.6" y="628.4" font-family='"Liberation Sans", sans-serif' font-size="4.3" font-weight="bold" font-style="normal" fill="#fff" text-anchor="start" textLength="40" lengthAdjust="spacingAndGlyphs" dx="-20">COMPONENT VIDEO</text>
<text x="699.6" y="632.8" font-family='"Liberation Sans", sans-serif' font-size="4.3" font-weight="bold" font-style="normal" fill="#fff" text-anchor="start" textLength="13" lengthAdjust="spacingAndGlyphs" dx="-6.5">INPUT</text>
<text x="732.5" y="630" font-family='"Liberation Sans", sans-serif' font-size="4.5" font-weight="bold" font-style="normal" fill="#fff" text-anchor="start" textLength="15" lengthAdjust="spacingAndGlyphs" dx="-7.5">INPUT 1</text>
<text x="753.5" y="630" font-family='"Liberation Sans", sans-serif' font-size="4.5" font-weight="bold" font-style="normal" fill="#fff" text-anchor="start" textLength="15" lengthAdjust="spacingAndGlyphs" dx="-7.5">INPUT 2</text>
<text x="775" y="626.8" font-family='"Liberation Sans", sans-serif' font-size="3.8" font-weight="bold" font-style="normal" fill="#fff" text-anchor="start" textLength="18" lengthAdjust="spacingAndGlyphs" dx="-9">TO AUDIO AMP</text>
<text x="775" y="631.5" font-family='"Liberation Sans", sans-serif' font-size="3.8" font-weight="bold" font-style="normal" fill="#fff" text-anchor="start" textLength="18" lengthAdjust="spacingAndGlyphs" dx="-9">MONITOR OUT</text>
<text x="694.8" y="529" font-family='"Liberation Sans", sans-serif' font-size="4" font-weight="normal" font-style="normal" fill="#555" text-anchor="middle" >Y</text>
<text x="694.8" y="547.6" font-family='"Liberation Sans", sans-serif' font-size="4" font-weight="normal" font-style="normal" fill="#666" text-anchor="middle" >P</text>
<text x="694.8" y="567" font-family='"Liberation Sans", sans-serif' font-size="4" font-weight="normal" font-style="normal" fill="#666" text-anchor="middle" >P</text>
<text x="715.9" y="529" font-family='"Liberation Sans", sans-serif' font-size="4" font-weight="normal" font-style="normal" fill="#555" text-anchor="middle" >Y</text>
<text x="715.9" y="547.6" font-family='"Liberation Sans", sans-serif' font-size="4" font-weight="normal" font-style="normal" fill="#666" text-anchor="middle" >P</text>
<text x="715.9" y="567" font-family='"Liberation Sans", sans-serif' font-size="4" font-weight="normal" font-style="normal" fill="#666" text-anchor="middle" >P</text>
<text x="765.2" y="551" font-family='"Liberation Sans", sans-serif' font-size="5" font-weight="normal" font-style="normal" fill="#555" text-anchor="start" textLength="15" lengthAdjust="spacingAndGlyphs" >S VIDEO</text>
<text x="787.5" y="572" font-family='"Liberation Sans", sans-serif' font-size="5" font-weight="normal" font-style="normal" fill="#555" text-anchor="start" textLength="11.7" lengthAdjust="spacingAndGlyphs" >VIDEO</text>
<line x1="784.3" y1="570.8" x2="787" y2="570.8" stroke="#333" stroke-width="0.7"/>
<polyline points="678.4,533.3 667.3,533.3 667.3,572.4 678.4,572.4" fill="none" stroke="#222" stroke-width="1.1"/>
<line x1="673.6" y1="553.3" x2="678.4" y2="553.3" stroke="#222" stroke-width="1"/>
<text x="660.5" y="554.6" font-family='"Liberation Sans", sans-serif' font-size="4.6" font-weight="normal" font-style="normal" fill="#777" text-anchor="start" textLength="12" lengthAdjust="spacingAndGlyphs" >VIDEO</text>
<rect x="659.4" y="574.5" width="7.9" height="5" fill="#e4e4e4" stroke="#222" stroke-width="0.9"/>
<line x1="659.4" y1="579.5" x2="659.4" y2="606.5" stroke="#222" stroke-width="0.9"/>
<polyline points="674.1,592.3 667.3,592.3 667.3,611.2 674.1,611.2" fill="none" stroke="#222" stroke-width="1"/>
<text x="675.2" y="593.5" font-family='"Liberation Sans", sans-serif' font-size="4" font-weight="normal" font-style="normal" fill="#666" text-anchor="start" >L</text>
<text x="675.2" y="612.5" font-family='"Liberation Sans", sans-serif' font-size="4" font-weight="normal" font-style="normal" fill="#666" text-anchor="start" >R</text>
<text x="658.8" y="603.4" font-family='"Liberation Sans", sans-serif' font-size="4.8" font-weight="bold" font-style="normal" fill="#777" text-anchor="start" textLength="13" lengthAdjust="spacingAndGlyphs" >AUDIO</text>
<rect x="652.5" y="606.5" width="13.2" height="11" fill="#d6d6d6" stroke="#222" stroke-width="0.9"/>
<text x="659.1" y="611.5" font-family='"Liberation Sans", sans-serif' font-size="3.6" font-weight="normal" font-style="normal" fill="#666" text-anchor="middle" >AUDIO</text>
<text x="659.1" y="616" font-family='"Liberation Sans", sans-serif' font-size="3.6" font-weight="normal" font-style="normal" fill="#666" text-anchor="middle" >IN</text>
<path d="M700.4,524.2 L700.4,471 Q700.4,462.6 692,462.6 L626.3,462.6 Q617.9,462.6 617.9,471 L617.9,494" fill="none" stroke="#777" stroke-width="4"/>
<path d="M608.6,493 L626.4,493 L617.5,506.7 Z" fill="#777"/>
</svg></body></html>
